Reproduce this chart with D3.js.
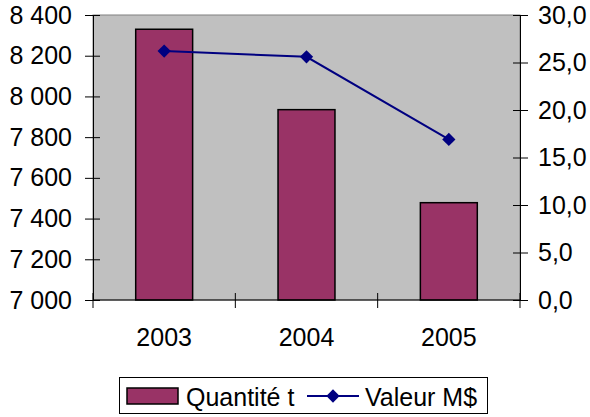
<!DOCTYPE html>
<html>
<head>
<meta charset="utf-8">
<script src="https://cdn.jsdelivr.net/npm/d3@7"></script>
<style>
  body { margin: 0; background: #fff; }
  svg { display: block; font-family: "Liberation Sans", Arial, sans-serif; }
</style>
</head>
<body>
<svg width="590" height="417"></svg>
<script>
var years = ["2003", "2004", "2005"];
var quantite = [8330, 7935, 7478];
var valeur = [26.2, 25.6, 16.9];
var leftTicks = [7000, 7200, 7400, 7600, 7800, 8000, 8200, 8400];
var rightTicks = [0, 5, 10, 15, 20, 25, 30];

var svg = d3.select("svg");
var plot = { left: 93, top: 15, right: 520, bottom: 300 };

var x = d3.scaleBand()
    .domain(years)
    .range([plot.left, plot.right])
    .paddingInner(0.6)
    .paddingOuter(0.3);

var yL = d3.scaleLinear().domain([7000, 8400]).range([plot.bottom, plot.top]);
var yR = d3.scaleLinear().domain([0, 30]).range([plot.bottom, plot.top]);

var fmtL = function (d) { return d3.format(",")(d).replace(",", " "); };
var fmtR = function (d) { return d3.format(".1f")(d).replace(".", ","); };

// plot background
svg.append("rect")
    .attr("x", plot.left)
    .attr("y", plot.top)
    .attr("width", plot.right - plot.left)
    .attr("height", plot.bottom - plot.top)
    .attr("fill", "#c0c0c0")
    .attr("stroke", "#808080")
    .attr("stroke-width", 1);

// bars
svg.append("g")
    .selectAll("rect")
    .data(quantite)
    .enter().append("rect")
    .attr("x", (d, i) => x(years[i]))
    .attr("y", d => yL(d))
    .attr("width", x.bandwidth())
    .attr("height", d => plot.bottom - yL(d))
    .attr("fill", "#993366")
    .attr("stroke", "#000")
    .attr("stroke-width", 1.5);

// left axis
var axL = svg.append("g")
    .attr("transform", "translate(" + plot.left + ",0)")
    .call(d3.axisLeft(yL).tickValues(leftTicks).tickFormat(fmtL).tickSize(8).tickPadding(13));
axL.selectAll(".tick line").attr("x1", 7).attr("x2", -8);

// right axis
var axR = svg.append("g")
    .attr("transform", "translate(" + plot.right + ",0)")
    .call(d3.axisRight(yR).tickValues(rightTicks).tickFormat(fmtR).tickSize(8).tickPadding(10));
axR.selectAll(".tick line").attr("x1", -7).attr("x2", 8);

// bottom axis
var xEdges = d3.scaleLinear().domain([0, 3]).range([plot.left, plot.right]);
var axB = svg.append("g")
    .attr("transform", "translate(0," + plot.bottom + ")");
axB.append("line")
    .attr("x1", plot.left).attr("x2", plot.right)
    .attr("stroke", "#000");
axB.selectAll(".edge")
    .data([0, 1, 2, 3])
    .enter().append("line")
    .attr("x1", d => xEdges(d)).attr("x2", d => xEdges(d))
    .attr("y1", -7).attr("y2", 8)
    .attr("stroke", "#000");
axB.selectAll("text")
    .data(years)
    .enter().append("text")
    .attr("x", d => x(d) + x.bandwidth() / 2)
    .attr("y", 46)
    .attr("text-anchor", "middle")
    .attr("font-size", 25)
    .text(d => d);

[axL, axR].forEach(function (a) {
    a.select(".domain").attr("stroke", "#000");
    a.selectAll(".tick line").attr("stroke", "#000");
    a.selectAll("text").attr("font-size", 25).attr("fill", "#000").attr("font-family", "Liberation Sans, Arial, sans-serif");
});

// line
var line = d3.line()
    .x((d, i) => x(years[i]) + x.bandwidth() / 2)
    .y(d => yR(d));

svg.append("path")
    .datum(valeur)
    .attr("d", line)
    .attr("fill", "none")
    .attr("stroke", "#000080")
    .attr("stroke-width", 2);

var diamond = d3.symbol().type(d3.symbolDiamond2).size(112);
svg.append("g")
    .selectAll("path")
    .data(valeur)
    .enter().append("path")
    .attr("d", diamond)
    .attr("transform", (d, i) => "translate(" + (x(years[i]) + x.bandwidth() / 2) + "," + yR(d) + ")")
    .attr("fill", "#000080");

// legend
var lg = svg.append("g");
lg.append("rect")
    .attr("x", 119.5).attr("y", 377.5)
    .attr("width", 368).attr("height", 36)
    .attr("fill", "#fff").attr("stroke", "#000");
lg.append("rect")
    .attr("x", 127).attr("y", 388)
    .attr("width", 51).attr("height", 16)
    .attr("fill", "#993366").attr("stroke", "#000").attr("stroke-width", 1.5);
lg.append("text")
    .attr("x", 186).attr("y", 406)
    .attr("font-size", 25)
    .text("Quantité t");
lg.append("line")
    .attr("x1", 307).attr("x2", 359)
    .attr("y1", 396).attr("y2", 396)
    .attr("stroke", "#000080").attr("stroke-width", 2);
lg.append("path")
    .attr("d", diamond)
    .attr("transform", "translate(333,396)")
    .attr("fill", "#000080");
lg.append("text")
    .attr("x", 365).attr("y", 406)
    .attr("font-size", 25)
    .text("Valeur M$");
</script>
</body>
</html>
